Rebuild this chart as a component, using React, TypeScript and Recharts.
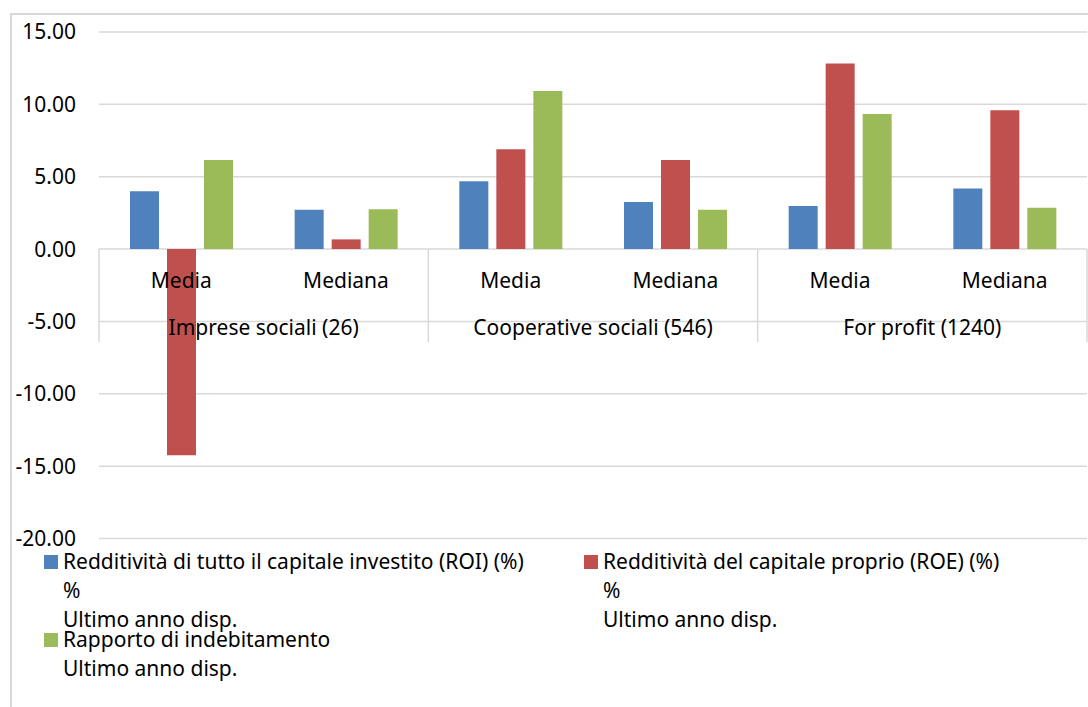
import { Bar, BarChart, CartesianGrid, XAxis, YAxis } from "recharts";

const subcategories = ["Media", "Mediana", "Media", "Mediana", "Media", "Mediana"];
const groups = ["Imprese sociali (26)", "Cooperative sociali (546)", "For profit (1240)"];
const roi = [3.99, 2.72, 4.68, 3.25, 2.97, 4.18];
const roe = [-14.25, 0.67, 6.89, 6.16, 12.82, 9.59];
const debt = [6.16, 2.75, 10.93, 2.72, 9.34, 2.86];
const yTicks = [-20, -15, -10, -5, 0, 5, 10, 15];

const seriesNames = [
  ["Redditività di tutto il capitale investito (ROI) (%)", "%", "Ultimo anno disp."],
  ["Redditività del capitale proprio (ROE) (%)", "%", "Ultimo anno disp."],
  ["Rapporto di indebitamento", "Ultimo anno disp."],
];
const COLORS = ["#4F81BD", "#C0504D", "#9BBB59"];

const data = subcategories.map((sub, i) => ({
  sub,
  roi: roi[i],
  roe: roe[i],
  debt: debt[i],
}));

const W = 1088;
const H = 707;
const TOP = 32;
const BOTTOM = 538.5;
const ZERO_Y = TOP + (15 / 35) * (BOTTOM - TOP);
const FONT = "'Noto Sans', sans-serif";
const FS = 21;
const GRID = "#d9d9d9";

function CategoryTick(props: any) {
  const { x, payload } = props;
  const half = payload.offset ?? 82.3;
  const i = payload.index;
  return (
    <g>
      <text
        x={x}
        y={280}
        textAnchor="middle"
        dominantBaseline="central"
        fontFamily={FONT}
        fontSize={FS}
        fill="#000"
      >
        {payload.value}
      </text>
      {i % 2 === 0 && (
        <>
          <text
            x={x + half}
            y={327}
            textAnchor="middle"
            dominantBaseline="central"
            fontFamily={FONT}
            fontSize={FS}
            fill="#000"
          >
            {groups[i / 2]}
          </text>
          <line x1={x - half} x2={x - half} y1={ZERO_Y} y2={342} stroke={GRID} strokeWidth={1.5} />
        </>
      )}
      {i === subcategories.length - 1 && (
        <line x1={x + half} x2={x + half} y1={ZERO_Y} y2={342} stroke={GRID} strokeWidth={1.5} />
      )}
    </g>
  );
}

const legendPos = [
  { left: 44, top: 547 },
  { left: 584, top: 547 },
  { left: 44, top: 625 },
];

export default function App() {
  return (
    <div
      style={{
        position: "fixed",
        left: 0,
        top: 0,
        width: W,
        height: H,
        overflow: "hidden",
        background: "#fff",
        fontFamily: FONT,
      }}
    >
      <div
        style={{
          position: "absolute",
          left: 10,
          top: 13,
          width: 1100,
          height: 720,
          border: `2px solid ${GRID}`,
        }}
      />
      <div style={{ position: "absolute", left: 0, top: 0 }}>
        <BarChart
          width={W}
          height={H}
          data={data}
          margin={{ top: TOP, right: 1, left: 9, bottom: H - BOTTOM - 1 }}
          barSize={29}
          barGap={8}
        >
          <CartesianGrid vertical={false} stroke={GRID} strokeWidth={1.5} />
          <YAxis
            type="number"
            domain={[-20, 15]}
            ticks={yTicks}
            width={90}
            axisLine={false}
            tickLine={false}
            tickSize={0}
            tickMargin={23}
            tickFormatter={(v: number) => v.toFixed(2)}
            tick={{ fontFamily: FONT, fontSize: FS, fill: "#000" }}
          />
          <XAxis
            dataKey="sub"
            height={1}
            interval={0}
            axisLine={false}
            tickLine={false}
            tick={<CategoryTick />}
          />
          <Bar dataKey="roi" fill={COLORS[0]} isAnimationActive={false} />
          <Bar dataKey="roe" fill={COLORS[1]} isAnimationActive={false} />
          <Bar dataKey="debt" fill={COLORS[2]} isAnimationActive={false} />
        </BarChart>
      </div>
      {seriesNames.map((lines, k) => (
        <div
          key={k}
          style={{
            position: "absolute",
            left: legendPos[k].left,
            top: legendPos[k].top,
            fontSize: FS,
            lineHeight: "29px",
            color: "#000",
          }}
        >
          <span
            style={{
              position: "absolute",
              left: 0,
              top: 8,
              width: 14,
              height: 14,
              background: COLORS[k],
            }}
          />
          {lines.map((t, j) => (
            <div key={j} style={{ marginLeft: 19, whiteSpace: "nowrap" }}>
              {t}
            </div>
          ))}
        </div>
      ))}
    </div>
  );
}
